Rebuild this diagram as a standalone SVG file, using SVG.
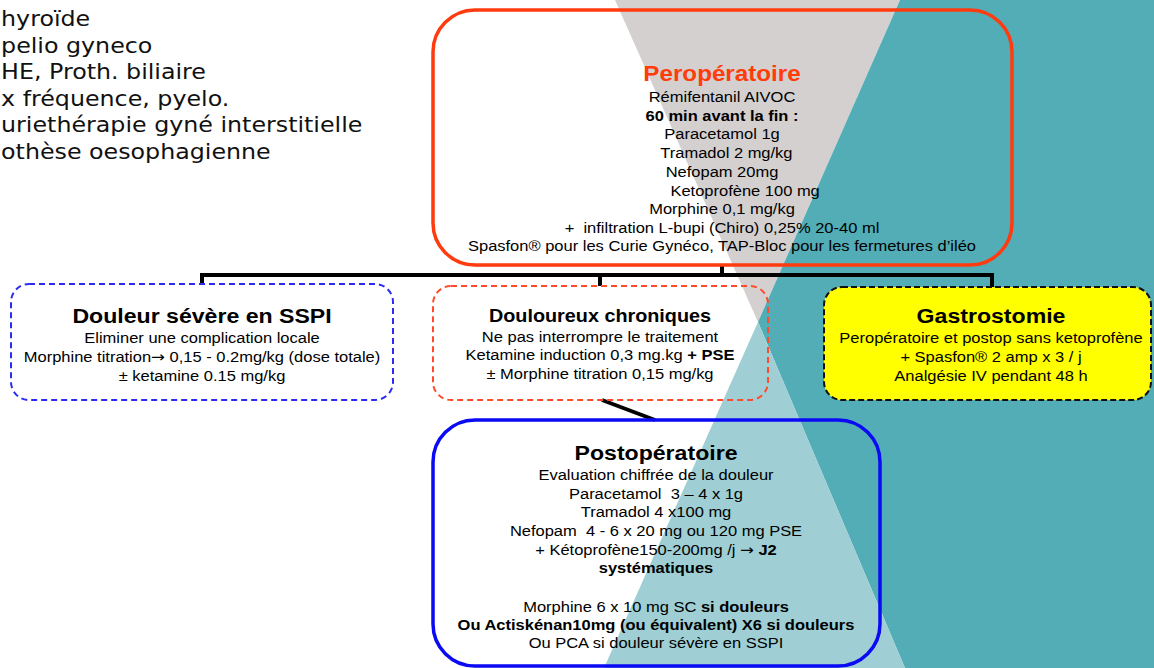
<svg xmlns="http://www.w3.org/2000/svg" width="1154" height="668" viewBox="0 0 1154 668">
<style>
.t{font-family:"Liberation Sans",Arial,sans-serif;font-size:15px;fill:#000;text-anchor:middle}
.h{font-weight:bold;font-size:21px}
.b{font-weight:bold}
.ar{font-family:"DejaVu Sans",sans-serif}
.lt{font-family:"DejaVu Sans",Verdana,sans-serif;font-size:22px;fill:#111;text-anchor:start}
.dash{fill:none;stroke-width:2;stroke-dasharray:6 4}
.con{fill:none;stroke:#000;stroke-width:4}
</style>
<rect width="1154" height="668" fill="#fff"/>
<g id="background">
<polygon points="615,0 900,0 758,322" fill="#d4d0cf"/>
<polygon points="900,0 1154,0 1154,668 905,668 758,322" fill="#52adb6"/>
<polygon points="758,322 905,668 604,668" fill="#9fcfd4"/>
</g>
<g id="notes" transform="scale(1.08 1)">
<text class="lt" x="1" y="26">hyroïde</text>
<text class="lt" x="1" y="53">pelio gyneco</text>
<text class="lt" x="1" y="79">HE, Proth. biliaire</text>
<text class="lt" x="1" y="106">x fréquence, pyelo.</text>
<text class="lt" x="1" y="132">uriethérapie gyné interstitielle</text>
<text class="lt" x="1" y="159">othèse oesophagienne</text>
</g>
<g id="connectors">
<path class="con" d="M202,284 V275 H992 V287"/>
<path class="con" d="M722,265 V275"/>
<path class="con" d="M600,275 V286"/>
<path class="con" d="M602,400 L655,420" stroke-width="3.5"/>
</g>
<g id="peroperatoire">
<rect x="433" y="10" width="579" height="255" rx="42" fill="none" stroke="#ff3b0f" stroke-width="3.5"/>
<g transform="translate(722 0) scale(1.1 1)">
<text class="t h" x="0" y="81" style="font-size:22px;fill:#ff3c0a">Peropératoire</text>
<text class="t" x="0" y="102">Rémifentanil AIVOC</text>
<text class="t b" x="0" y="121">60 min avant la fin :</text>
<text class="t" x="0" y="139">Paracetamol 1g</text>
<text class="t" x="4" y="158">Tramadol 2 mg/kg</text>
<text class="t" x="0" y="177">Nefopam 20mg</text>
<text class="t" x="21" y="196">Ketoprofène 100 mg</text>
<text class="t" x="0" y="214">Morphine 0,1 mg/kg</text>
<text class="t" x="0" y="233">+ &#160;infiltration L-bupi (Chiro) 0,25% 20-40 ml</text>
<text class="t" x="0" y="251">Spasfon® pour les Curie Gynéco, TAP-Bloc pour les fermetures d’iléo</text>
</g>
</g>
<g id="douleur-severe">
<rect class="dash" x="11" y="284" width="382" height="116" rx="18" stroke="#2b2bf2"/>
<g transform="translate(202 0) scale(1.1 1)">
<text class="t h" x="0" y="323">Douleur sévère en SSPI</text>
<text class="t" x="0" y="343">Eliminer une complication locale</text>
<text class="t" x="0" y="362">Morphine titration<tspan class="ar">→</tspan> 0,15 - 0.2mg/kg (dose totale)</text>
<text class="t" x="0" y="381">± ketamine 0.15 mg/kg</text>
</g>
</g>
<g id="douloureux-chroniques">
<rect class="dash" x="433" y="286" width="335" height="114" rx="18" stroke="#ff4b2b"/>
<g transform="translate(600 0) scale(1.1 1)">
<text class="t h" x="0" y="322" style="font-size:18px">Douloureux chroniques</text>
<text class="t" x="0" y="342">Ne pas interrompre le traitement</text>
<text class="t" x="0" y="360">Ketamine induction 0,3 mg.kg <tspan class="b">+ PSE</tspan></text>
<text class="t" x="0" y="379">± Morphine titration 0,15 mg/kg</text>
</g>
</g>
<g id="gastrostomie">
<rect x="824" y="287" width="327" height="113" rx="18" fill="#ffff00" stroke="#111" stroke-width="2" stroke-dasharray="6 3"/>
<g transform="translate(991 0) scale(1.1 1)">
<text class="t h" x="0" y="323">Gastrostomie</text>
<text class="t" x="0" y="343">Peropératoire et postop sans ketoprofène</text>
<text class="t" x="0" y="362">+ Spasfon® 2 amp x 3 / j</text>
<text class="t" x="0" y="381">Analgésie IV pendant 48 h</text>
</g>
</g>
<g id="postoperatoire">
<rect x="433" y="420" width="447" height="246" rx="42" fill="none" stroke="#0a0af5" stroke-width="3.5"/>
<g transform="translate(656 0) scale(1.1 1)">
<text class="t h" x="0" y="460">Postopératoire</text>
<text class="t" x="0" y="480">Evaluation chiffrée de la douleur</text>
<text class="t" x="0" y="499">Paracetamol &#160;3 – 4 x 1g</text>
<text class="t" x="0" y="517">Tramadol 4 x100 mg</text>
<text class="t" x="0" y="536">Nefopam &#160;4 - 6 x 20 mg ou 120 mg PSE</text>
<text class="t" x="0" y="555">+ Kétoprofène150-200mg /j <tspan class="ar">→</tspan> <tspan class="b">J2</tspan></text>
<text class="t b" x="0" y="573">systématiques</text>
<text class="t" x="0" y="612">Morphine 6 x 10 mg SC <tspan class="b">si douleurs</tspan></text>
<text class="t b" x="0" y="630">Ou Actiskénan10mg (ou équivalent) X6 si douleurs</text>
<text class="t" x="0" y="648">Ou PCA si douleur sévère en SSPI</text>
</g>
</g>
</svg>
